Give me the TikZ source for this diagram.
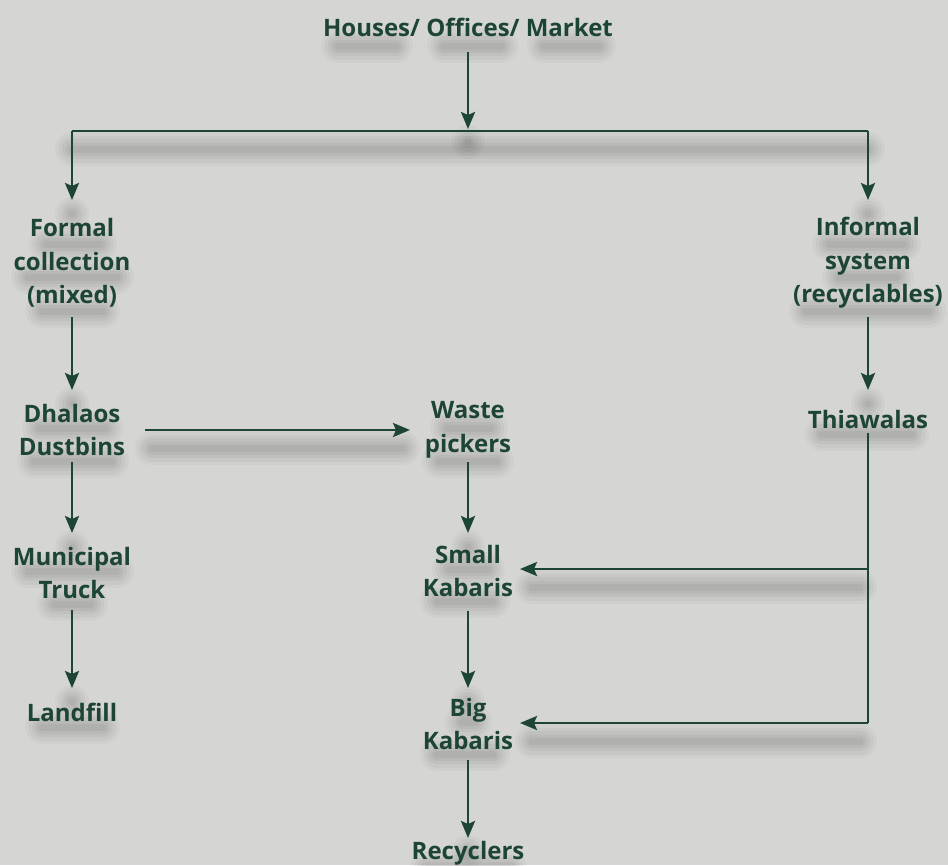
\documentclass[tikz,border=0pt]{standalone}
\usepackage{fontspec}
\setmainfont{Open Sans}
\usetikzlibrary{arrows.meta,calc}
\definecolor{bgc}{HTML}{D5D5D3}
\definecolor{tg}{HTML}{1D4535}
\newcommand\shd[3]{%
  \foreach \w/\o in {34/0.025,27/0.03,20/0.035,13/0.04,7/0.045}{%
    \draw[line width=\w pt,line cap=round,black,opacity=\o] (#1,#3) -- (#2,#3);}}
\tikzset{
  lbl/.style={text=tg, font=\fontsize{24}{33.5}\selectfont\bfseries, align=center, inner sep=0pt},
  ln/.style={draw=tg, line width=2.6pt},
  arr/.style={ln, -{Stealth[length=17pt,width=14pt,inset=3pt]}}
}
\begin{document}
\begin{tikzpicture}[x=1pt,y=-1pt]
\useasboundingbox (0,0) rectangle (948,865);
\fill[bgc] (0,0) rectangle (948,865);
% shadows of text lines
\shd{338}{396}{46}\shd{444}{501}{46}\shd{544}{599}{46}
\shd{46}{100}{244}\shd{28}{117}{277}\shd{42}{103}{311}
\shd{829}{904}{244}\shd{839}{897}{277}\shd{806}{929}{311}
\shd{39}{106}{428}\shd{34}{112}{461}
\shd{447}{491}{428}\shd{439}{497}{461}
\shd{822}{912}{434}
\shd{28}{117}{571}\shd{54}{91}{604}
\shd{449}{488}{569}\shd{437}{493}{601}
\shd{42}{103}{727}
\shd{462}{475}{722}\shd{437}{493}{754}
\shd{427}{510}{868}
% shadows of connectors
\shd{72}{868}{149}
\shd{152}{403}{448}
\shd{532}{860}{587}
\shd{532}{860}{741}
\shd{468}{468}{142}\shd{72}{72}{214}\shd{868}{868}{214}
\shd{72}{72}{404}\shd{868}{868}{404}
\shd{72}{72}{547}\shd{468}{468}{547}
\shd{72}{72}{702}\shd{468}{468}{702}\shd{468}{468}{852}
% nodes
\node[lbl] (top) at (468,27) {Houses/ Offices/ Market};
\node[lbl] (formal) at (72,263) {Formal\\collection\\(mixed)};
\node[lbl] (informal) at (868,263) {Informal\\system\\(recyclables)};
\node[lbl] (dhalaos) at (72,430) {Dhalaos\\Dustbins};
\node[lbl] (waste) at (468,430) {Waste\\pickers};
\node[lbl] (thia) at (868,419) {Thiawalas};
\node[lbl] (muni) at (72,573) {Municipal\\Truck};
\node[lbl] (small) at (468,571) {Small\\Kabaris};
\node[lbl] (land) at (72,712) {Landfill};
\node[lbl] (big) at (468,724) {Big\\Kabaris};
\node[lbl] (recy) at (468,853) {Recyclers};
% junctions
\coordinate (jm) at (468,131);
\coordinate (jl) at (72,131);
\coordinate (jr) at (868,131);
\coordinate (cb) at (868,723);
% connectors
\draw[arr, shorten >=2pt] (468,52) -- (jm);
\draw[ln] (jl) -- (jr);
\draw[arr] (jl) -- (72,200);
\draw[arr] (jr) -- (868,200);
\draw[arr] (72,317) -- (72,390);
\draw[arr] (868,317) -- (868,390);
\draw[arr] (145,430) -- (410,430);
\draw[arr] (72,462) -- (72,533);
\draw[arr] (468,462) -- (468,533);
\draw[arr] (72,610) -- (72,688);
\draw[arr] (468,611) -- (468,688);
\draw[arr] (468,760) -- (468,838);
\draw[ln] (868,433) -- (cb);
\draw[arr] (cb) -- (520,723);
\draw[arr] (868,569) -- (520,569);
\end{tikzpicture}
\end{document}
